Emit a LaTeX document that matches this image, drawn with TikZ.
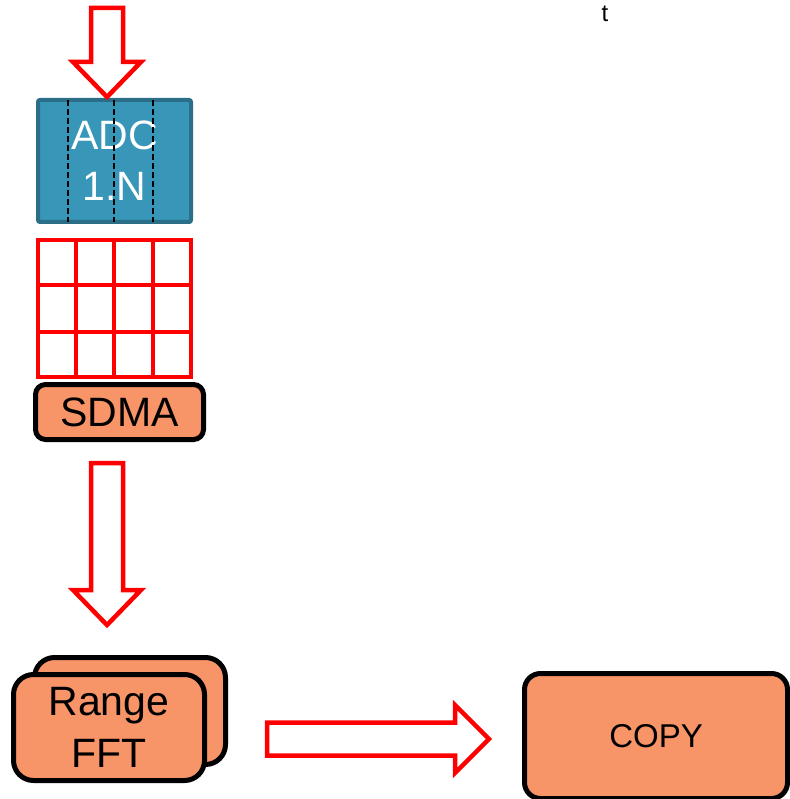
\documentclass[tikz,border=0pt]{standalone}
\usepackage{fontspec}
\setmainfont{Liberation Sans}
\usetikzlibrary{calc}
\definecolor{adcblue}{RGB}{56,150,185}
\definecolor{adcedge}{RGB}{42,110,136}
\definecolor{salmon}{RGB}{247,148,104}

\begin{document}
\begin{tikzpicture}[x=1pt,y=-1pt,
 every node/.style={align=center,inner sep=0pt},
 adcbox/.style={draw=adcedge,fill=adcblue,line width=4pt,rounded corners=2pt,text=white,minimum width=153pt,minimum height=122pt,font=\fontsize{41}{51}\selectfont},
 engine/.style={draw=black,fill=salmon,line width=5pt,rounded corners=#1,font=\fontsize{41}{52}\selectfont},
 engine/.default=10pt,
 gridline/.style={draw=red,line width=4.5pt},
 divider/.style={dash pattern=on 6pt off 3pt,line width=1.8pt},
 blockarrow/.style={draw=red,fill=white,line width=4.5pt}
]
\useasboundingbox (0,0) rectangle (789,799);
\node[font=\fontsize{24}{28}\selectfont] (tlabel) at (605,14) {t};
% ADC with its channel dividers
\node[adcbox] (adc) at (114.5,161) {ADC\\1.N};
\foreach \x in {68,114,153} \draw[divider] (\x,100) -- (\x,222);
% sample buffer
\node[gridline,minimum width=153pt,minimum height=137pt] (buf) at (114.5,308.5) {};
\foreach \x in {76,114,153} \draw[gridline] (\x,240) -- (\x,377);
\foreach \y in {285,332} \draw[gridline] (38,\y) -- (191,\y);
\node[engine,minimum width=168pt,minimum height=55pt] (sdma) at (119.5,412) {SDMA};
% range FFT, two stacked engines
\node[engine=20pt,minimum width=191pt,minimum height=107pt] (fftback) at (130,711) {};
\node[engine=20pt,minimum width=191pt,minimum height=106pt] (fft) at (109,727.5) {Range\\FFT};
\node[engine=16pt,minimum width=263pt,minimum height=125pt,font=\fontsize{33}{40}\selectfont] (copy) at (656,736) {COPY};
% block arrows
\coordinate (adcin) at (107,8);
\coordinate (sdmaout) at (107,463);
\coordinate (fftout) at (267,739);
\draw[blockarrow] (adcin) -- ++(16,0) -- ++(0,54) -- ++(18,0) -- ++(-34,35) -- ++(-34,-35) -- ++(18,0) -- ++(0,-54) -- cycle;
\draw[blockarrow] (sdmaout) -- ++(16,0) -- ++(0,127) -- ++(18,0) -- ++(-34,35) -- ++(-34,-35) -- ++(18,0) -- ++(0,-127) -- cycle;
\draw[blockarrow] (fftout) -- ++(0,-16.5) -- ++(188,0) -- ++(0,-17.5) -- ++(34,34) -- ++(-34,34) -- ++(0,-17.5) -- ++(-188,0) -- cycle;
\end{tikzpicture}
\end{document}
